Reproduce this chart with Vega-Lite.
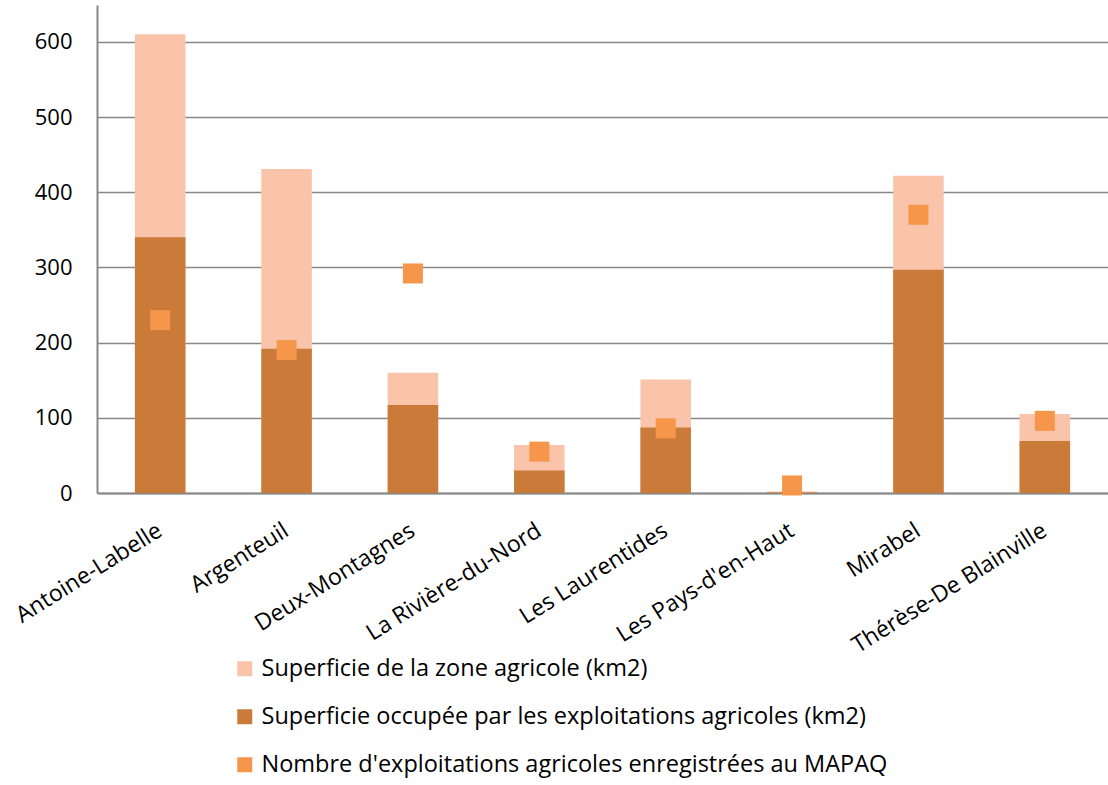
{
  "$schema": "https://vega.github.io/schema/vega-lite/v6.json",
  "width": 1011,
  "height": 488,
  "autosize": {"type": "none"},
  "padding": {"left": 97, "top": 5, "right": 0, "bottom": 292},
  "background": "white",
  "config": {
    "font": "Open Sans",
    "view": {"stroke": null},
    "axis": {"labelFont": "Open Sans", "labelColor": "#000000"},
    "legend": {"labelFont": "Open Sans"}
  },
  "data": {
    "values": [
      {"region": "Antoine-Labelle", "serie": "Superficie de la zone agricole (km2)", "valeur": 610},
      {"region": "Argenteuil", "serie": "Superficie de la zone agricole (km2)", "valeur": 431},
      {"region": "Deux-Montagnes", "serie": "Superficie de la zone agricole (km2)", "valeur": 160},
      {"region": "La Rivière-du-Nord", "serie": "Superficie de la zone agricole (km2)", "valeur": 64},
      {"region": "Les Laurentides", "serie": "Superficie de la zone agricole (km2)", "valeur": 151},
      {"region": "Les Pays-d'en-Haut", "serie": "Superficie de la zone agricole (km2)", "valeur": 2},
      {"region": "Mirabel", "serie": "Superficie de la zone agricole (km2)", "valeur": 422},
      {"region": "Thérèse-De Blainville", "serie": "Superficie de la zone agricole (km2)", "valeur": 105},
      {"region": "Antoine-Labelle", "serie": "Superficie occupée par les exploitations agricoles (km2)", "valeur": 340},
      {"region": "Argenteuil", "serie": "Superficie occupée par les exploitations agricoles (km2)", "valeur": 192},
      {"region": "Deux-Montagnes", "serie": "Superficie occupée par les exploitations agricoles (km2)", "valeur": 117},
      {"region": "La Rivière-du-Nord", "serie": "Superficie occupée par les exploitations agricoles (km2)", "valeur": 30},
      {"region": "Les Laurentides", "serie": "Superficie occupée par les exploitations agricoles (km2)", "valeur": 87},
      {"region": "Les Pays-d'en-Haut", "serie": "Superficie occupée par les exploitations agricoles (km2)", "valeur": 1},
      {"region": "Mirabel", "serie": "Superficie occupée par les exploitations agricoles (km2)", "valeur": 297},
      {"region": "Thérèse-De Blainville", "serie": "Superficie occupée par les exploitations agricoles (km2)", "valeur": 69},
      {"region": "Antoine-Labelle", "serie": "Nombre d'exploitations agricoles enregistrées au MAPAQ", "valeur": 230},
      {"region": "Argenteuil", "serie": "Nombre d'exploitations agricoles enregistrées au MAPAQ", "valeur": 190},
      {"region": "Deux-Montagnes", "serie": "Nombre d'exploitations agricoles enregistrées au MAPAQ", "valeur": 292},
      {"region": "La Rivière-du-Nord", "serie": "Nombre d'exploitations agricoles enregistrées au MAPAQ", "valeur": 55},
      {"region": "Les Laurentides", "serie": "Nombre d'exploitations agricoles enregistrées au MAPAQ", "valeur": 86},
      {"region": "Les Pays-d'en-Haut", "serie": "Nombre d'exploitations agricoles enregistrées au MAPAQ", "valeur": 10},
      {"region": "Mirabel", "serie": "Nombre d'exploitations agricoles enregistrées au MAPAQ", "valeur": 370},
      {"region": "Thérèse-De Blainville", "serie": "Nombre d'exploitations agricoles enregistrées au MAPAQ", "valeur": 96}
    ]
  },
  "encoding": {
    "x": {
      "field": "region",
      "type": "nominal",
      "sort": null,
      "scale": {"paddingInner": 0.6, "paddingOuter": 0.3},
      "axis": {
        "title": null,
        "labelAngle": -32,
        "labelFontSize": 23,
        "labelPadding": 26,
        "labelLimit": 0,
        "labelOffset": -6,
        "ticks": false,
        "domain": true,
        "domainColor": "#888888",
        "domainWidth": 2
      }
    },
    "y": {
      "field": "valeur",
      "type": "quantitative",
      "scale": {"domain": [0, 649], "nice": false},
      "axis": {
        "title": null,
        "values": [0, 100, 200, 300, 400, 500, 600],
        "labelFontSize": 22,
        "labelPadding": 25,
        "ticks": false,
        "domainColor": "#888888",
        "domainWidth": 2,
        "grid": true,
        "gridColor": "#888888",
        "gridWidth": 1.5
      }
    },
    "color": {
      "field": "serie",
      "type": "nominal",
      "scale": {
        "domain": [
          "Superficie de la zone agricole (km2)",
          "Superficie occupée par les exploitations agricoles (km2)",
          "Nombre d'exploitations agricoles enregistrées au MAPAQ"
        ],
        "range": ["#F9C4AA", "#CB7B39", "#F5964A"]
      },
      "legend": {
        "title": null,
        "orient": "none",
        "legendX": 136,
        "legendY": 652,
        "direction": "vertical",
        "symbolType": "square",
        "symbolSize": 225,
        "symbolStrokeWidth": 0,
        "labelFontSize": 23.5,
        "labelColor": "#000000",
        "labelLimit": 900,
        "rowPadding": 23,
        "labelOffset": 5
      }
    }
  },
  "layer": [
    {
      "transform": [{"filter": "datum.serie === 'Superficie de la zone agricole (km2)'"}],
      "mark": {"type": "bar"}
    },
    {
      "transform": [{"filter": "datum.serie === 'Superficie occupée par les exploitations agricoles (km2)'"}],
      "mark": {"type": "bar"}
    },
    {
      "transform": [{"filter": "datum.serie === \"Nombre d'exploitations agricoles enregistrées au MAPAQ\""}],
      "mark": {"type": "point", "shape": "square", "filled": true, "opacity": 1, "size": 400}
    }
  ]
}
